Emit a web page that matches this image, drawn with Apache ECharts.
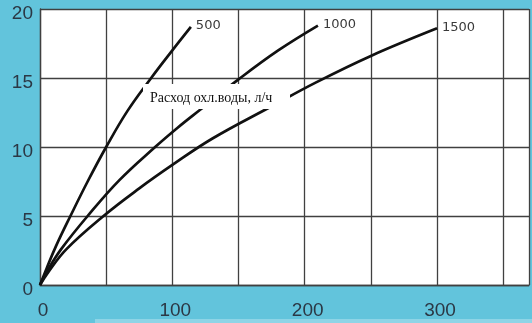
<!DOCTYPE html>
<html>
<head>
<meta charset="utf-8">
<script src="https://cdn.jsdelivr.net/npm/echarts@6/dist/echarts.min.js"></script>
<style>
html,body{margin:0;padding:0;background:#62c4dc;}
#c{width:532px;height:323px;}
</style>
</head>
<body>
<div id="c"></div>
<script>
// Data
var curveNames = ['500', '1000', '1500'];
var curve500 = [[0, 0], [5, 1.2], [12, 2.8], [23, 5], [36, 7.5], [50, 10], [66, 12.6], [84, 15], [100, 17], [114, 18.7]];
var curve1000 = [[0, 0], [6, 1.1], [16, 2.6], [36, 5], [60, 7.6], [87, 10], [104, 11.4], [121, 12.7], [150, 14.9], [180, 17], [210, 18.8]];
var curve1500 = [[0, 0], [6, 0.9], [20, 2.6], [48, 5], [75, 7.0], [100, 8.7], [130, 10.6], [174, 12.9], [209, 14.7], [250, 16.6], [300, 18.6]];
var xTicks = [0, 100, 200, 300];
var yTicks = [0, 5, 10, 15, 20];
var noteText = 'Расход охл.воды, л/ч';

var chart = echarts.init(document.getElementById('c'));
var gridColor = '#404040';
var labelColor = '#2b3845';

function mkSeries(name, data) {
  return {
    name: name,
    type: 'line',
    data: data,
    smooth: 0.4,
    showSymbol: false,
    symbol: 'none',
    lineStyle: { color: '#111', width: 2.7 },
    endLabel: {
      show: true,
      formatter: name,
      distance: 5,
      offset: [0, -1],
      color: '#3a3a3a',
      fontSize: 13,
      fontFamily: '"DejaVu Sans", Verdana, sans-serif'
    },
    animation: false,
    z: 3
  };
}

chart.setOption({
  backgroundColor: '#62c4dc',
  animation: false,
  grid: { left: 40, right: -2, top: 9, bottom: 38, show: true, backgroundColor: '#ffffff', borderWidth: 0 },
  xAxis: {
    type: 'value', min: 0, max: 369.5, interval: 50,
    axisLine: { show: true, lineStyle: { color: gridColor, width: 1.3 } },
    axisTick: { show: false },
    splitLine: { show: true, lineStyle: { color: gridColor, width: 1.3 } },
    axisLabel: {
      margin: 16,
      color: labelColor, fontSize: 19, fontFamily: 'Liberation Sans, Arial, sans-serif',
      padding: [0, 0, 0, 6],
      formatter: function (v) { return xTicks.indexOf(v) >= 0 ? String(v) : ''; }
    }
  },
  yAxis: {
    type: 'value', min: 0, max: 20, interval: 5,
    axisLine: { show: true, lineStyle: { color: gridColor, width: 1.3 } },
    axisTick: { show: false },
    splitLine: { show: true, lineStyle: { color: gridColor, width: 1.3 } },
    axisLabel: {
      margin: 7,
      color: labelColor, fontSize: 19, fontFamily: 'Liberation Sans, Arial, sans-serif',
      verticalAlign: 'top',
      lineHeight: 9,
      formatter: function (v) { return yTicks.indexOf(v) >= 0 ? String(v) : ''; }
    }
  },
  series: [
    mkSeries(curveNames[0], curve500),
    mkSeries(curveNames[1], curve1000),
    mkSeries(curveNames[2], curve1500)
  ],
  graphic: [
    { type: 'rect', z: 100, shape: { x: 143, y: 84, width: 147, height: 25 }, style: { fill: '#ffffff' } },
    { type: 'text', z: 101, style: {
        x: 150, y: 98, text: noteText, fill: '#111',
        font: '14px "Liberation Serif", "Times New Roman", serif',
        verticalAlign: 'middle', align: 'left'
    } },
    { type: 'rect', z: 0, shape: { x: 95, y: 319, width: 437, height: 4 }, style: { fill: '#8ed4e6' } }
  ]
});
</script>
</body>
</html>
